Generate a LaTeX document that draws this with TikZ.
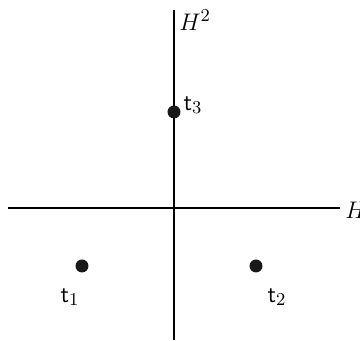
\documentclass[tikz,border=0pt]{standalone}
\begin{document}
\begin{tikzpicture}[x=0.5pt,y=-0.5pt,
  axis/.style={line width=0.9pt},
  pt/.style={circle,fill=black!90,inner sep=0pt,minimum size=6.5pt},
  lbl/.style={inner sep=0pt,font=\fontsize{13}{15}\selectfont}]
\useasboundingbox (0,0) rectangle (360,341);
\coordinate (xl) at (8,208);
\coordinate (xr) at (340,208);
\coordinate (yb) at (174,340);
\coordinate (yt) at (174,10);
\draw[axis] (xl) -- (xr);
\draw[axis] (yb) -- (yt);
\node[lbl,anchor=west] (hx) at (345,210) {$H$};
\node[lbl,anchor=west] (hy) at (179,20) {$H^2$};
\node[pt] (t3) at (174,112) {};
\node[pt] (t1) at (82,266) {};
\node[pt] (t2) at (256,266) {};
\node[lbl] (l3) at (193,105) {$\mathsf{t}_3$};
\node[lbl] (l1) at (70,297) {$\mathsf{t}_1$};
\node[lbl] (l2) at (277,297) {$\mathsf{t}_2$};
\end{tikzpicture}
\end{document}
